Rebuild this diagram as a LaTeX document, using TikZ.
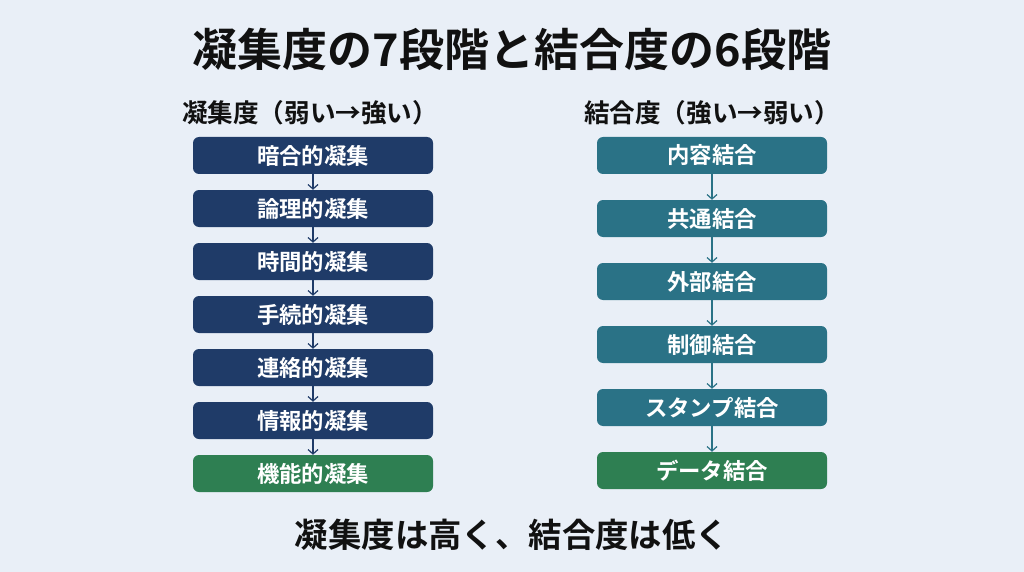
\documentclass[tikz,border=0pt]{standalone}
\usepackage{fontspec}
\setmainfont{Noto Sans CJK JP}[BoldFont={Noto Sans CJK JP Bold}]
\usetikzlibrary{arrows.meta}

\definecolor{bgcol}{HTML}{E9EFF7}
\definecolor{navy}{HTML}{1F3B68}
\definecolor{teal}{HTML}{2A7286}
\definecolor{leaf}{HTML}{2E7F52}
\definecolor{ink}{HTML}{111111}

\tikzset{
  cohbox/.style={rectangle, rounded corners=6pt, fill=navy, text=white,
    minimum width=240pt, minimum height=37pt, inner sep=0pt,
    font=\bfseries\fontsize{22.4}{26}\selectfont},
  coubox/.style={cohbox, fill=teal, minimum width=230pt},
  bestbox/.style={fill=leaf},
  cohstep/.style={draw=navy, line width=1.2pt, -{Straight Barb[length=4.5pt,width=10pt]}},
  coustep/.style={cohstep, draw=teal},
  heading/.style={text=ink, font=\bfseries\fontsize{25.6}{29}\selectfont, inner sep=0pt}
}

\begin{document}
\begin{tikzpicture}[x=1pt, y=-1pt]
  \def\Xl{313};
  \def\Xr{712};
  \def\dYl{53};
  \def\dYr{63};
  \def\Ytop{155.5};

  \useasboundingbox[fill=bgcol] (0,0) rectangle (1024,572);

	% title
	\node[text=ink, font=\bfseries\fontsize{45}{50}\selectfont] (title) at (512, 49) {凝集度の7段階と結合度の6段階};
	\node[heading] (cohhead) at (\Xl - 3, 113) {凝集度（弱い→強い）};
	\node[heading] (couhead) at (\Xr, 113) {結合度（強い→弱い）};

	% cohesion
	\node[cohbox] (coh1) at (\Xl, \Ytop) {暗合的凝集};
	\node[cohbox] (coh2) at (\Xl, \Ytop + \dYl) {論理的凝集};
	\node[cohbox] (coh3) at (\Xl, \Ytop + 2*\dYl) {時間的凝集};
	\node[cohbox] (coh4) at (\Xl, \Ytop + 3*\dYl) {手続的凝集};
	\node[cohbox] (coh5) at (\Xl, \Ytop + 4*\dYl) {連絡的凝集};
	\node[cohbox] (coh6) at (\Xl, \Ytop + 5*\dYl) {情報的凝集};
	\node[cohbox, bestbox] (coh7) at (\Xl, \Ytop + 6*\dYl) {機能的凝集};

	% coupling
	\node[coubox] (cou1) at (\Xr, \Ytop) {内容結合};
	\node[coubox] (cou2) at (\Xr, \Ytop + \dYr) {共通結合};
	\node[coubox] (cou3) at (\Xr, \Ytop + 2*\dYr) {外部結合};
	\node[coubox] (cou4) at (\Xr, \Ytop + 3*\dYr) {制御結合};
	\node[coubox] (cou5) at (\Xr, \Ytop + 4*\dYr) {スタンプ結合};
	\node[coubox, bestbox] (cou6) at (\Xr, \Ytop + 5*\dYr) {データ結合};

	% arrows
	\draw[cohstep] (coh1) -- (coh2);
	\draw[cohstep] (coh2) -- (coh3);
	\draw[cohstep] (coh3) -- (coh4);
	\draw[cohstep] (coh4) -- (coh5);
	\draw[cohstep] (coh5) -- (coh6);
	\draw[cohstep] (coh6) -- (coh7);
	\draw[coustep] (cou1) -- (cou2);
	\draw[coustep] (cou2) -- (cou3);
	\draw[coustep] (cou3) -- (cou4);
	\draw[coustep] (cou4) -- (cou5);
	\draw[coustep] (cou5) -- (cou6);

	% summary
	\node[text=ink, font=\bfseries\fontsize{33.4}{38}\selectfont] (summary) at (512, 535) {凝集度は高く、結合度は低く};

\end{tikzpicture}
\end{document}
